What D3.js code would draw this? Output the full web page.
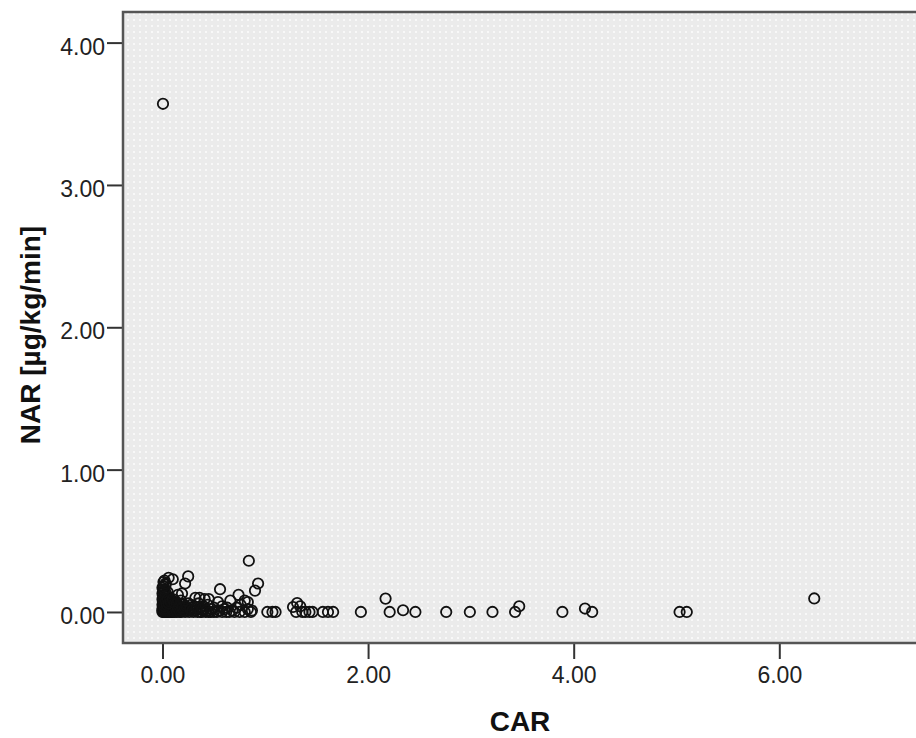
<!DOCTYPE html>
<html>
<head>
<meta charset="utf-8">
<script src="https://cdn.jsdelivr.net/npm/d3@7"></script>
<style>
  html, body { margin: 0; padding: 0; background: #fff; overflow: hidden; }
  svg { display: block; font-family: "Liberation Sans", Arial, sans-serif; }
</style>
</head>
<body>
<svg id="chart"></svg>
<script>
// CAR vs NAR values, [CAR, NAR]
var clusterPoints = [
  [0.00, 0.00], [0.01, 0.00], [0.02, 0.00], [0.03, 0.00], [0.04, 0.00], [0.05, 0.00],
  [0.06, 0.00], [0.07, 0.00], [0.08, 0.00], [0.09, 0.00], [0.10, 0.00], [0.12, 0.00],
  [0.00, 0.02], [0.01, 0.03], [0.02, 0.02], [0.03, 0.04], [0.04, 0.02], [0.05, 0.03],
  [0.06, 0.02], [0.08, 0.03], [0.10, 0.02], [0.12, 0.03],
  [0.00, 0.05], [0.01, 0.06], [0.02, 0.07], [0.03, 0.05], [0.04, 0.08], [0.05, 0.06],
  [0.07, 0.05], [0.09, 0.06], [0.11, 0.05],
  [0.00, 0.09], [0.01, 0.10], [0.02, 0.11], [0.03, 0.09], [0.04, 0.12], [0.06, 0.10], [0.08, 0.09],
  [0.00, 0.13], [0.01, 0.14], [0.02, 0.15], [0.03, 0.13], [0.05, 0.14],
  [0.00, 0.17], [0.01, 0.18], [0.02, 0.16], [0.03, 0.19],
  [0.01, 0.21], [0.02, 0.22], [0.03, 0.20], [0.06, 0.24], [0.10, 0.23],
  [0.00, 0.01], [0.02, 0.01], [0.04, 0.01], [0.06, 0.01], [0.08, 0.01], [0.10, 0.01],
  [0.03, 0.07], [0.05, 0.09], [0.07, 0.08], [0.09, 0.04], [0.11, 0.07], [0.13, 0.02],
  [0.02, 0.04], [0.04, 0.05], [0.06, 0.06], [0.08, 0.07], [0.10, 0.09], [0.12, 0.06]
]

var midPoints = [
  [0.14, 0.00], [0.16, 0.01], [0.18, 0.00], [0.20, 0.02], [0.22, 0.00], [0.24, 0.01],
  [0.26, 0.00], [0.28, 0.03], [0.30, 0.00], [0.32, 0.01], [0.34, 0.00], [0.36, 0.02],
  [0.38, 0.00], [0.40, 0.01], [0.42, 0.00], [0.45, 0.00], [0.48, 0.02], [0.50, 0.00],
  [0.53, 0.00], [0.55, 0.01], [0.58, 0.00], [0.60, 0.02], [0.62, 0.00], [0.65, 0.00],
  [0.68, 0.01], [0.70, 0.00], [0.75, 0.00], [0.80, 0.00], [0.86, 0.00],
  [0.14, 0.06], [0.16, 0.04], [0.18, 0.08], [0.20, 0.05], [0.22, 0.03], [0.25, 0.06],
  [0.28, 0.05], [0.31, 0.04], [0.35, 0.06], [0.40, 0.04], [0.44, 0.05], [0.50, 0.03],
  [0.54, 0.07], [0.58, 0.04], [0.63, 0.03], [0.66, 0.08], [0.72, 0.03], [0.76, 0.05],
  [0.15, 0.12], [0.19, 0.13], [0.22, 0.20], [0.25, 0.25], [0.32, 0.10], [0.36, 0.10],
  [0.41, 0.09], [0.45, 0.09], [0.56, 0.16], [0.74, 0.12], [0.80, 0.08], [0.83, 0.07],
  [0.83, 0.02], [0.87, 0.01],
  [0.84, 0.36], [0.93, 0.20], [0.90, 0.15],
  [0.15, 0.02], [0.17, 0.00], [0.19, 0.03], [0.21, 0.01], [0.23, 0.04], [0.27, 0.02],
  [0.29, 0.01], [0.33, 0.03], [0.37, 0.00], [0.39, 0.02], [0.43, 0.01], [0.47, 0.00]
]

var tailPoints = [
  [1.02, 0.00], [1.07, 0.00], [1.10, 0.00], [1.27, 0.035], [1.30, 0.00], [1.31, 0.063],
  [1.34, 0.04], [1.36, 0.00], [1.39, 0.00], [1.43, 0.00], [1.46, 0.00], [1.56, 0.00],
  [1.61, 0.00], [1.66, 0.00], [1.93, 0.00], [2.17, 0.094], [2.21, 0.00], [2.34, 0.012],
  [2.46, 0.00], [2.76, 0.00], [2.99, 0.00], [3.21, 0.00], [3.43, 0.00], [3.47, 0.04],
  [3.89, 0.00], [4.11, 0.024], [4.18, 0.00], [5.03, 0.00], [5.10, 0.00], [6.34, 0.095]
]

var outlierPoints = [
  [0.005, 3.57]
]

var xTicks = [0, 2, 4, 6]
var yTicks = [0, 1, 2, 3, 4]
var xTitle = "CAR"
var yTitle = "NAR [µg/kg/min]"

var points = clusterPoints.concat(midPoints, tailPoints, outlierPoints)

var width = 916
var height = 738

var svg = d3.select('#chart').attr('width', width).attr('height', height)

var x = d3.scaleLinear().domain([-0.384, 7.5]).range([123, 933.5])
var y = d3.scaleLinear().domain([-0.218, 4.215]).range([643, 12])

// dotted grey plot background
var defs = svg.append('defs')
var pat = defs.append('pattern')
  .attr('id', 'dots').attr('patternUnits', 'userSpaceOnUse')
  .attr('width', 6).attr('height', 6)
pat.append('rect').attr('width', 6).attr('height', 6).attr('fill', '#ebebeb')
pat.append('rect').attr('x', 1).attr('y', 1).attr('width', 2).attr('height', 2).attr('fill', '#f8f8f8')

// note: "top" is taken by window.top, so use plot* names
var plotLeft = x.range()[0], plotRight = x.range()[1]
var plotTop = y.range()[1], plotBottom = y.range()[0]

svg.append('rect')
  .attr('x', plotLeft).attr('y', plotTop)
  .attr('width', plotRight - plotLeft).attr('height', plotBottom - plotTop)
  .attr('fill', 'url(#dots)')

// axes
var fmt = d3.format('.2f')

var yAxis = svg.append('g')
  .attr('transform', 'translate(' + plotLeft + ',0)')
  .call(d3.axisLeft(y).tickValues(yTicks).tickFormat(fmt).tickSize(16).tickPadding(2))
yAxis.select('.domain').remove()
yAxis.selectAll('line').attr('stroke', '#333').attr('stroke-width', 2)
yAxis.selectAll('text')
  .attr('font-size', 23).attr('fill', '#222').attr('dy', '0.5em')
  .style('font-family', '"Liberation Sans", Arial, sans-serif')

var xAxis = svg.append('g')
  .attr('transform', 'translate(0,' + plotBottom + ')')
  .call(d3.axisBottom(x).tickValues(xTicks).tickFormat(fmt).tickSize(16).tickPadding(8))
xAxis.select('.domain').remove()
xAxis.selectAll('line').attr('stroke', '#333').attr('stroke-width', 2)
xAxis.selectAll('text')
  .attr('font-size', 23).attr('fill', '#222')
  .style('font-family', '"Liberation Sans", Arial, sans-serif')

// frame
svg.append('rect')
  .attr('x', plotLeft).attr('y', plotTop)
  .attr('width', plotRight - plotLeft).attr('height', plotBottom - plotTop)
  .attr('fill', 'none').attr('stroke', '#555').attr('stroke-width', 2.5)

// points
svg.append('g').selectAll('circle')
  .data(points)
  .enter().append('circle')
  .attr('cx', function (d) { return x(d[0]) })
  .attr('cy', function (d) { return y(d[1]) })
  .attr('r', 5.2)
  .attr('fill', 'none')
  .attr('stroke', '#111')
  .attr('stroke-width', 1.8)

// titles
svg.append('text')
  .attr('x', 520).attr('y', 731)
  .attr('text-anchor', 'middle')
  .attr('font-size', 28).attr('font-weight', 'bold').attr('fill', '#111')
  .text(xTitle)

svg.append('text')
  .attr('transform', 'translate(40,335) rotate(-90)')
  .attr('text-anchor', 'middle')
  .attr('font-size', 28).attr('font-weight', 'bold').attr('fill', '#111')
  .text(yTitle)
</script>
</body>
</html>
